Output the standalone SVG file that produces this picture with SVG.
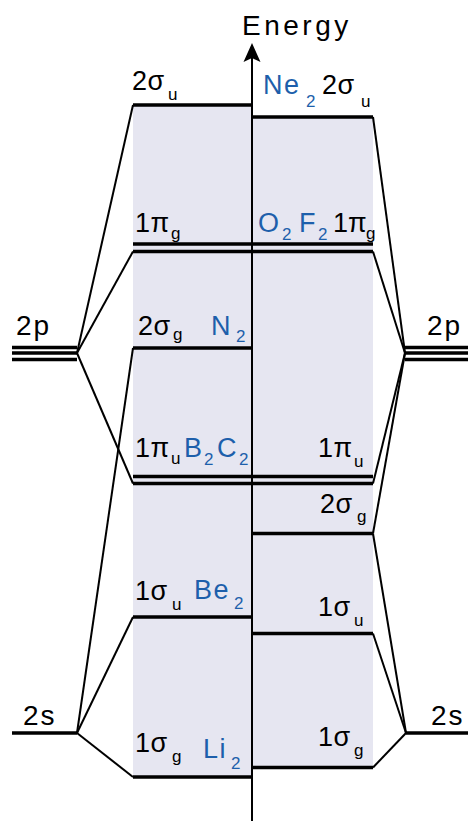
<svg xmlns="http://www.w3.org/2000/svg" width="468" height="821" viewBox="0 0 468 821">
<style>
.bg{fill:#fff}
.shade{fill:#e6e6f1}
.lvl{stroke:#000;stroke-width:3.5;fill:none}
.con{stroke:#000;stroke-width:2;fill:none;stroke-linejoin:round}
.axis{stroke:#000;stroke-width:2}
text{font-family:"Liberation Sans",Arial,sans-serif;font-size:27px;fill:#000;letter-spacing:0.5px}
.ao{font-size:28px;letter-spacing:2px}
.sub{font-size:17px;letter-spacing:0}
.blue{fill:#1d5fab;letter-spacing:1.5px}
</style>
<rect class="bg" x="0" y="0" width="468" height="821"/>
<g id="shading">
<rect class="shade" x="133" y="105" width="119" height="672"/>
<rect class="shade" x="252" y="117" width="121" height="650.5"/>
</g>
<g id="connectors">
<line class="con" x1="77" y1="353" x2="133" y2="105"/>
<line class="con" x1="77" y1="353" x2="133" y2="251.5"/>
<line class="con" x1="77" y1="353" x2="133" y2="483.5"/>
<line class="con" x1="77" y1="733" x2="133" y2="348"/>
<line class="con" x1="77" y1="733" x2="133" y2="617"/>
<line class="con" x1="77" y1="733" x2="133" y2="777"/>
<line class="con" x1="405" y1="353" x2="373" y2="117"/>
<line class="con" x1="405" y1="353" x2="373" y2="251.5"/>
<line class="con" x1="405" y1="353" x2="373" y2="483.5"/>
<line class="con" x1="405" y1="353" x2="373" y2="533.5"/>
<line class="con" x1="406" y1="733" x2="373" y2="533.5"/>
<line class="con" x1="406" y1="733" x2="373" y2="633.5"/>
<line class="con" x1="406" y1="733" x2="373" y2="767.5"/>
</g>
<g id="axis">
<line class="axis" x1="252" y1="821" x2="252" y2="55"/>
<path d="M252,43 L260.5,62 L252,58 L243.5,62 Z" fill="#000"/>
<text x="242" y="35" style="font-size:28px;letter-spacing:3.5px">Energy</text>
</g>
<g id="ao-left-2p">
<line class="lvl" x1="12" y1="347.5" x2="77" y2="347.5"/>
<line class="lvl" x1="12" y1="353" x2="77" y2="353"/>
<line class="lvl" x1="12" y1="359.5" x2="77" y2="359.5"/>
<text class="ao" x="16" y="335">2p</text>
</g>
<g id="ao-right-2p">
<line class="lvl" x1="405" y1="347.5" x2="468" y2="347.5"/>
<line class="lvl" x1="405" y1="353" x2="468" y2="353"/>
<line class="lvl" x1="405" y1="359.5" x2="468" y2="359.5"/>
<text class="ao" x="427" y="335">2p</text>
</g>
<g id="ao-left-2s">
<line class="lvl" x1="12" y1="733" x2="77" y2="733"/>
<text class="ao" x="23" y="725">2s</text>
</g>
<g id="ao-right-2s">
<line class="lvl" x1="406" y1="733" x2="468" y2="733"/>
<text class="ao" x="431" y="725">2s</text>
</g>
<g id="mo-left-2su">
<line class="lvl" x1="133" y1="105" x2="252" y2="105"/>
<text x="132" y="90">2σ<tspan class="sub" x="168" y="100">u</tspan></text>
</g>
<g id="mo-right-2su">
<line class="lvl" x1="252" y1="117" x2="373" y2="117"/>
<text class="blue" x="263" y="94">Ne<tspan class="sub" x="306" y="107">2</tspan></text>
<text x="322" y="94">2σ<tspan class="sub" x="361" y="107">u</tspan></text>
</g>
<g id="mo-left-1pg">
<line class="lvl" x1="133" y1="244" x2="252" y2="244"/>
<line class="lvl" x1="133" y1="251.5" x2="252" y2="251.5"/>
<text x="135" y="232">1π<tspan class="sub" x="171" y="239">g</tspan></text>
</g>
<g id="mo-right-1pg">
<line class="lvl" x1="252" y1="244" x2="373" y2="244"/>
<line class="lvl" x1="252" y1="251.5" x2="373" y2="251.5"/>
<text class="blue" x="258" y="232">O<tspan class="sub" x="282" y="240">2</tspan></text>
<text class="blue" x="299" y="232">F<tspan class="sub" x="318" y="240">2</tspan></text>
<text x="333" y="232" style="letter-spacing:0">1π<tspan class="sub" x="366" y="239">g</tspan></text>
</g>
<g id="mo-left-2sg">
<line class="lvl" x1="133" y1="348" x2="252" y2="348"/>
<text x="138" y="335">2σ<tspan class="sub" x="173" y="340">g</tspan></text>
<text class="blue" x="211" y="335">N<tspan class="sub" x="236" y="342">2</tspan></text>
</g>
<g id="mo-left-1pu">
<line class="lvl" x1="133" y1="476.5" x2="252" y2="476.5"/>
<line class="lvl" x1="133" y1="483.5" x2="252" y2="483.5"/>
<text x="135" y="457">1π<tspan class="sub" x="171" y="464">u</tspan></text>
<text class="blue" x="184" y="457">B<tspan class="sub" x="204" y="465">2</tspan></text>
<text class="blue" x="217" y="457">C<tspan class="sub" x="239" y="465">2</tspan></text>
</g>
<g id="mo-right-1pu">
<line class="lvl" x1="252" y1="476.5" x2="373" y2="476.5"/>
<line class="lvl" x1="252" y1="483.5" x2="373" y2="483.5"/>
<text x="318" y="457">1π<tspan class="sub" x="354" y="467">u</tspan></text>
</g>
<g id="mo-right-2sg">
<line class="lvl" x1="252" y1="533.5" x2="373" y2="533.5"/>
<text x="320" y="513">2σ<tspan class="sub" x="357" y="522">g</tspan></text>
</g>
<g id="mo-left-1su">
<line class="lvl" x1="133" y1="617" x2="252" y2="617"/>
<text x="135" y="600">1σ<tspan class="sub" x="172" y="610">u</tspan></text>
<text class="blue" x="194" y="599">Be<tspan class="sub" x="234" y="609">2</tspan></text>
</g>
<g id="mo-right-1su">
<line class="lvl" x1="252" y1="633.5" x2="373" y2="633.5"/>
<text x="318" y="616">1σ<tspan class="sub" x="354" y="626">u</tspan></text>
</g>
<g id="mo-left-1sg">
<line class="lvl" x1="133" y1="777" x2="252" y2="777"/>
<text x="135" y="752">1σ<tspan class="sub" x="172" y="762">g</tspan></text>
<text class="blue" x="203" y="758">Li<tspan class="sub" x="231" y="769">2</tspan></text>
</g>
<g id="mo-right-1sg">
<line class="lvl" x1="252" y1="767.5" x2="373" y2="767.5"/>
<text x="318" y="746">1σ<tspan class="sub" x="354" y="756">g</tspan></text>
</g>
</svg>
